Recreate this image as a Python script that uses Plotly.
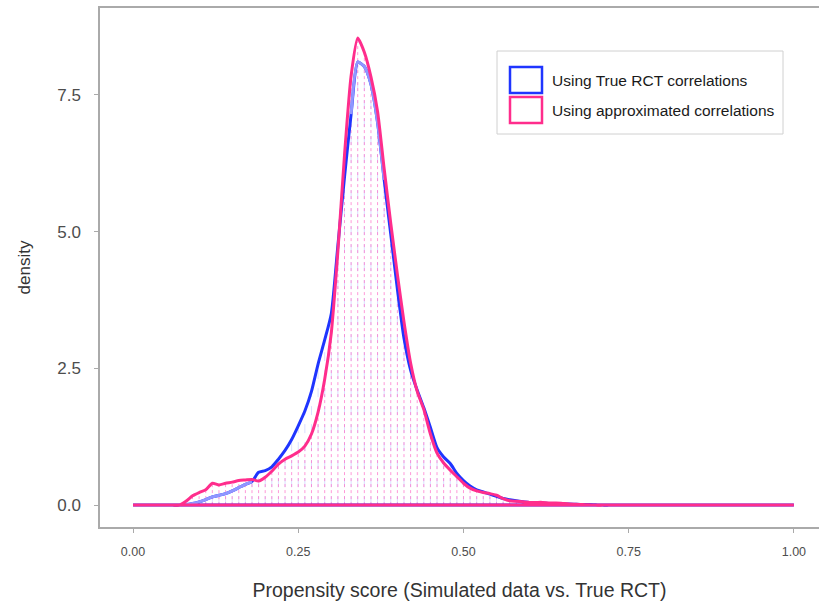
import plotly.graph_objects as go

# ---------------- data ----------------
x_grid = [round(i * 0.01, 2) for i in range(101)]

dens_true = [
    0, 0, 0, 0, 0, 0, 0, 0, 0.01, 0.03,            # 0.00-0.09
    0.06, 0.10, 0.15, 0.18, 0.21, 0.26, 0.32, 0.38, 0.43, 0.60,  # 0.10-0.19
    0.63, 0.70, 0.84, 1.00, 1.20, 1.45, 1.72, 2.08, 2.58, 3.02,  # 0.20-0.29
    3.50, 4.75, 6.00, 7.15, 8.10, 8.02, 7.70, 7.00, 5.95, 4.95,  # 0.30-0.39
    3.95, 3.05, 2.47, 2.10, 1.78, 1.42, 1.05, 0.88, 0.76, 0.58,  # 0.40-0.49
    0.45, 0.35, 0.28, 0.24, 0.20, 0.16, 0.12, 0.10, 0.08, 0.06,  # 0.50-0.59
    0.05, 0.04, 0.035, 0.03, 0.025, 0.02, 0.02, 0.015, 0.01, 0.01,  # 0.60-0.69
    0.005, 0, 0, 0, 0, 0, 0, 0, 0, 0,               # 0.70-0.79
    0, 0, 0, 0, 0, 0, 0, 0, 0, 0,                   # 0.80-0.89
    0, 0, 0, 0, 0, 0, 0, 0, 0, 0,                   # 0.90-0.99
    0,                                              # 1.00
]

dens_approx = [
    0, 0, 0, 0, 0, 0, 0, 0, 0.07, 0.17,             # 0.00-0.09
    0.23, 0.28, 0.40, 0.37, 0.40, 0.42, 0.45, 0.46, 0.47, 0.44,  # 0.10-0.19
    0.51, 0.62, 0.75, 0.84, 0.90, 0.97, 1.08, 1.30, 1.70, 2.30,  # 0.20-0.29
    3.15, 4.65, 6.40, 7.85, 8.54, 8.28, 7.83, 7.20, 6.15, 5.15,  # 0.30-0.39
    4.22, 3.35, 2.60, 2.08, 1.75, 1.30, 0.95, 0.77, 0.64, 0.52,  # 0.40-0.49
    0.40, 0.31, 0.26, 0.23, 0.21, 0.18, 0.12, 0.08, 0.07, 0.06,  # 0.50-0.59
    0.05, 0.05, 0.05, 0.04, 0.04, 0.03, 0.02, 0.015, 0.01, 0.005,  # 0.60-0.69
    0, 0, 0, 0, 0, 0, 0, 0, 0, 0,                   # 0.70-0.79
    0, 0, 0, 0, 0, 0, 0, 0, 0, 0,                   # 0.80-0.89
    0, 0, 0, 0, 0, 0, 0, 0, 0, 0,                   # 0.90-0.99
    0,                                              # 1.00
]

series_names = ["Using True RCT correlations", "Using approximated correlations"]
x_ticks = [0.0, 0.25, 0.5, 0.75, 1.0]
x_tick_labels = ["0.00", "0.25", "0.50", "0.75", "1.00"]
y_ticks = [0.0, 2.5, 5.0, 7.5]
y_tick_labels = ["0.0", "2.5", "5.0", "7.5"]

BLUE = "#1f35ff"
BLUE_LIGHT = "#9096ff"
PINK = "#ff2d8c"

# ---------------- figure ----------------
fig = go.Figure()


def segments(xs, ys):
    sx, sy = [], []
    for xv, yv in zip(xs, ys):
        if yv > 0:
            sx += [xv, xv, None]
            sy += [0, yv, None]
    return sx, sy


# dashed vertical hatching under each density
bx, by = segments(x_grid, dens_true)
fig.add_trace(go.Scatter(x=bx, y=by, mode="lines", showlegend=False, hoverinfo="skip",
                         line=dict(color="rgba(150,160,255,0.35)", width=1, dash="dash")))
px_, py_ = segments(x_grid, dens_approx)
fig.add_trace(go.Scatter(x=px_, y=py_, mode="lines", showlegend=False, hoverinfo="skip",
                         line=dict(color="rgba(255,110,200,0.7)", width=1, dash="dot")))

# density outlines (closed along the baseline, like geom_density)
fig.add_trace(go.Scatter(x=x_grid + [x_grid[0]], y=dens_true + [0], mode="lines",
                         name=series_names[0], showlegend=False,
                         line=dict(color=BLUE, width=3, shape="spline", smoothing=0.6)))
# lighter stretches of the blue outline
for lo, hi in [(7, 19), (33, 39)]:
    fig.add_trace(go.Scatter(x=x_grid[lo:hi], y=dens_true[lo:hi], mode="lines",
                             showlegend=False, hoverinfo="skip",
                             line=dict(color=BLUE_LIGHT, width=3, shape="spline", smoothing=0.6)))
fig.add_trace(go.Scatter(x=x_grid + [x_grid[0]], y=dens_approx + [0], mode="lines",
                         name=series_names[1], showlegend=False,
                         line=dict(color=PINK, width=3, shape="spline", smoothing=0.6)))

# ---------------- layout ----------------
L, T, W, H = 100, 8, 719, 519


def pxx(p):
    return (p - L) / W


def pxy(p):
    return (T + H - p) / H


shapes = [
    dict(type="rect", xref="paper", yref="paper", x0=pxx(497), x1=pxx(783), y0=pxy(134), y1=pxy(51),
         line=dict(color="#d0d0d0", width=1), fillcolor="white", layer="above"),
    dict(type="rect", xref="paper", yref="paper", x0=pxx(510), x1=pxx(542), y0=pxy(93), y1=pxy(67),
         line=dict(color=BLUE, width=2.5), fillcolor="white", layer="above"),
    dict(type="rect", xref="paper", yref="paper", x0=pxx(510), x1=pxx(542), y0=pxy(123), y1=pxy(97),
         line=dict(color=PINK, width=2.5), fillcolor="white", layer="above"),
]
annotations = [
    dict(xref="paper", yref="paper", x=pxx(550), y=pxy(80), text=series_names[0], showarrow=False,
         xanchor="left", yanchor="middle", font=dict(size=15.5, color="#1a1a1a")),
    dict(xref="paper", yref="paper", x=pxx(550), y=pxy(110), text=series_names[1], showarrow=False,
         xanchor="left", yanchor="middle", font=dict(size=15.5, color="#1a1a1a")),
]

fig.update_layout(
    width=819, height=608,
    margin=dict(l=L, r=0, t=T, b=608 - T - H),
    plot_bgcolor="white", paper_bgcolor="white",
    font=dict(family="Liberation Sans, Arial, sans-serif", color="#4d4d4d"),
    shapes=shapes, annotations=annotations,
    xaxis=dict(range=[-0.05, 1.038], tickvals=x_ticks, ticktext=x_tick_labels,
               showgrid=False, zeroline=False, showline=True, linecolor="#aaaaaa", linewidth=1.5,
               mirror=True, ticks="outside", ticklen=4, tickcolor="#aaaaaa",
               tickfont=dict(size=12.5, color="#4d4d4d"), ticklabelstandoff=8,
               title=dict(text="Propensity score (Simulated data vs. True RCT)",
                          font=dict(size=19.5, color="#333333"), standoff=26)),
    yaxis=dict(range=[-0.40, 9.09], tickvals=y_ticks, ticktext=y_tick_labels,
               showgrid=False, zeroline=False, showline=True, linecolor="#aaaaaa", linewidth=1.5,
               ticks="outside", ticklen=4, tickcolor="#aaaaaa",
               tickfont=dict(size=17, color="#4d4d4d"), ticklabelstandoff=10,
               title=dict(text="density", font=dict(size=17, color="#333333"), standoff=22)),
)

fig.write_html("out.html")
